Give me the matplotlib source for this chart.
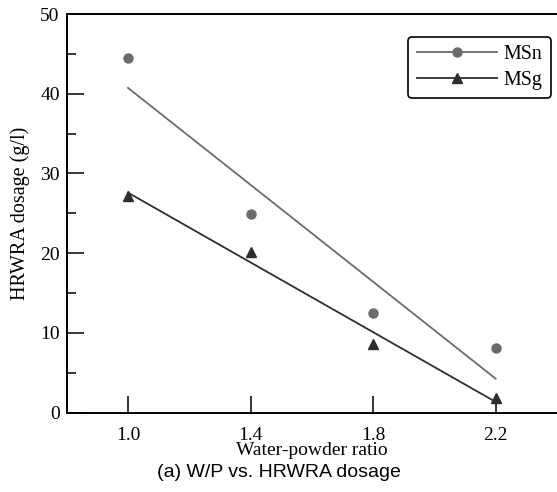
import matplotlib
matplotlib.use("Agg")
import matplotlib.pyplot as plt
import numpy as np
from matplotlib.ticker import MultipleLocator

# water-powder ratio and HRWRA dosage (g/l)
wp_ratio = [1.0, 1.4, 1.8, 2.2]
msn_dosage = [44.5, 24.9, 12.5, 8.1]
msg_dosage = [27.2, 20.2, 8.6, 1.9]

series = [
    ("MSn", msn_dosage, "#6b6b6b", "o"),
    ("MSg", msg_dosage, "#2e2e2e", "^"),
]


def plot_dosage():
    plt.rcParams["font.family"] = "Liberation Serif"
    fig = plt.figure(figsize=(5.57, 4.92), dpi=100)
    ax = fig.add_axes([0.1197, 0.1612, 0.8803, 0.8103])

    x = np.array(wp_ratio)
    for name, values, color, marker in series:
        slope, icept = np.polyfit(x, values, 1)
        ends = np.array([x[0], x[-1]])
        ax.plot(ends, slope * ends + icept, "-", c=color, lw=1.3)
        ax.plot(x, values, marker, c=color, ms=6.5, ls="none")
        ax.plot([], [], "-", c=color, lw=1.3, marker=marker, ms=6.5, label=name)

    ax.set_xlim(0.8, 2.4)
    ax.set_ylim(0, 50)
    ax.set_xticks(wp_ratio)
    ax.set_xticklabels([f"{v:.1f}" for v in wp_ratio])
    ax.yaxis.set_major_locator(MultipleLocator(10))
    ax.yaxis.set_minor_locator(MultipleLocator(5))
    ax.tick_params(axis="both", which="major", direction="in", length=12, width=1.1,
                   labelsize=14)
    ax.tick_params(axis="x", pad=10)
    ax.tick_params(axis="y", pad=5)
    ax.tick_params(axis="y", which="minor", direction="in", length=6.7, width=1.1)
    ax.spines["right"].set_visible(False)
    for side in ("left", "top", "bottom"):
        ax.spines[side].set_linewidth(1.4)

    ax.set_xlabel("Water-powder ratio", fontsize=14, labelpad=-1)
    ax.set_ylabel("HRWRA dosage (g/l)", fontsize=14.5, labelpad=7)

    leg = ax.legend(loc="upper right", bbox_to_anchor=(0.9875, 0.9435), fontsize=14.4,
                    frameon=True, fancybox=True, edgecolor="black", handlelength=4.0,
                    handletextpad=0.35, borderpad=0.42, labelspacing=0.33,
                    borderaxespad=0)
    leg.get_frame().set_linewidth(1.2)
    leg.get_frame().set_alpha(1)

    fig.text(0.5, 0.039, "(a) W/P vs. HRWRA dosage", ha="center", va="center",
             fontsize=14, family="Liberation Sans")

    fig.savefig("out.png", dpi=100)
    return fig, ax


if __name__ == "__main__":
    plot_dosage()
